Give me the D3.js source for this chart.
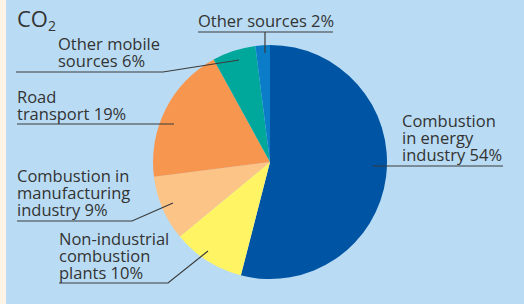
<!DOCTYPE html>
<html>
<head>
<meta charset="utf-8">
<script src="https://cdn.jsdelivr.net/npm/d3@7"></script>
<style>
  body { margin: 0; background: #fdf3e6; }
  text { font-family: "Open Sans", "DejaVu Sans", sans-serif; fill: #333; }
</style>
</head>
<body>
<script>
// slices clockwise from 12 o'clock
var categories = ["Combustion in energy industry", "Non-industrial combustion plants",
                  "Combustion in manufacturing industry", "Road transport",
                  "Other mobile sources", "Other sources"];
var shares = [54, 10, 9, 19, 6, 2];
var colors = ["#0054a4", "#fff464", "#fdc488", "#f7964f", "#00a89c", "#0b7dc8"];
var labelLines = [
  ["Combustion", "in energy", "industry 54%"],
  ["Non-industrial", "combustion", "plants 10%"],
  ["Combustion in", "manufacturing", "industry 9%"],
  ["Road", "transport 19%"],
  ["Other mobile", "sources 6%"],
  ["Other sources 2%"]
];

var W = 524, H = 304;
var cx = 270, cy = 162, r = 117;

var svg = d3.select("body").append("svg")
    .attr("width", W)
    .attr("height", H);

svg.append("rect")
    .attr("x", 6).attr("y", 0)
    .attr("width", W - 6).attr("height", H)
    .attr("fill", "#b9dcf4");

var pie = d3.pie().sort(null).value(function(d) { return d; });
var arc = d3.arc().innerRadius(0).outerRadius(r);
var arcs = pie(shares);

var g = svg.append("g").attr("transform", "translate(" + cx + "," + cy + ")");
g.selectAll("path")
    .data(arcs)
    .enter()
    .append("path")
    .attr("d", arc)
    .attr("fill", function(d, i) { return colors[i]; });

// label placement: text x, first baseline, underline y, underline x range
var labelPos = [
  {x: 402, y: 127, uy: 166, x0: 373, x1: 503},
  {x: 59, y: 245, uy: 283, x0: 59, x1: 168},
  {x: 17, y: 182, uy: 221, x0: 17, x1: 132},
  {x: 17, y: 103, uy: 124, x0: 17, x1: 163},
  {x: 58, y: 50, uy: 72, x0: 16, x1: 163},
  {x: 198, y: 27, uy: 32, x0: 198, x1: 333}
];
var lineH = 17;

// leader end points on the slices
var leaderEnds = [[373, 166], [208, 251], [173, 203], [174, 124], [239, 60], [265, 53]];

labelPos.forEach(function(p, i) {
  var t = svg.append("text")
      .attr("x", p.x).attr("y", p.y)
      .style("font-size", "16.5px");
  labelLines[i].forEach(function(s, j) {
    t.append("tspan").attr("x", p.x).attr("dy", j === 0 ? 0 : lineH).text(s);
  });

  var e = leaderEnds[i];
  if (i === 0) {
    svg.append("line").attr("x1", p.x0).attr("x2", p.x1).attr("y1", p.uy).attr("y2", p.uy)
        .attr("stroke", "#3a3a3a").attr("stroke-width", 1.2);
  } else if (i === 5) {
    svg.append("line").attr("x1", p.x0).attr("x2", p.x1).attr("y1", p.uy).attr("y2", p.uy)
        .attr("stroke", "#3a3a3a").attr("stroke-width", 1.2);
    svg.append("line").attr("x1", e[0]).attr("x2", e[0]).attr("y1", p.uy).attr("y2", e[1])
        .attr("stroke", "#3a3a3a").attr("stroke-width", 1.2);
  } else {
    svg.append("path")
        .attr("d", d3.line()([[p.x0, p.uy], [p.x1, p.uy], e]))
        .attr("fill", "none")
        .attr("stroke", "#3a3a3a")
        .attr("stroke-width", 1.2);
  }
});

// title
var title = svg.append("text").attr("x", 17).attr("y", 27).style("font-size", "22px");
title.append("tspan").text("CO");
title.append("tspan").attr("dy", 4).style("font-size", "14px").text("2");
</script>
</body>
</html>
